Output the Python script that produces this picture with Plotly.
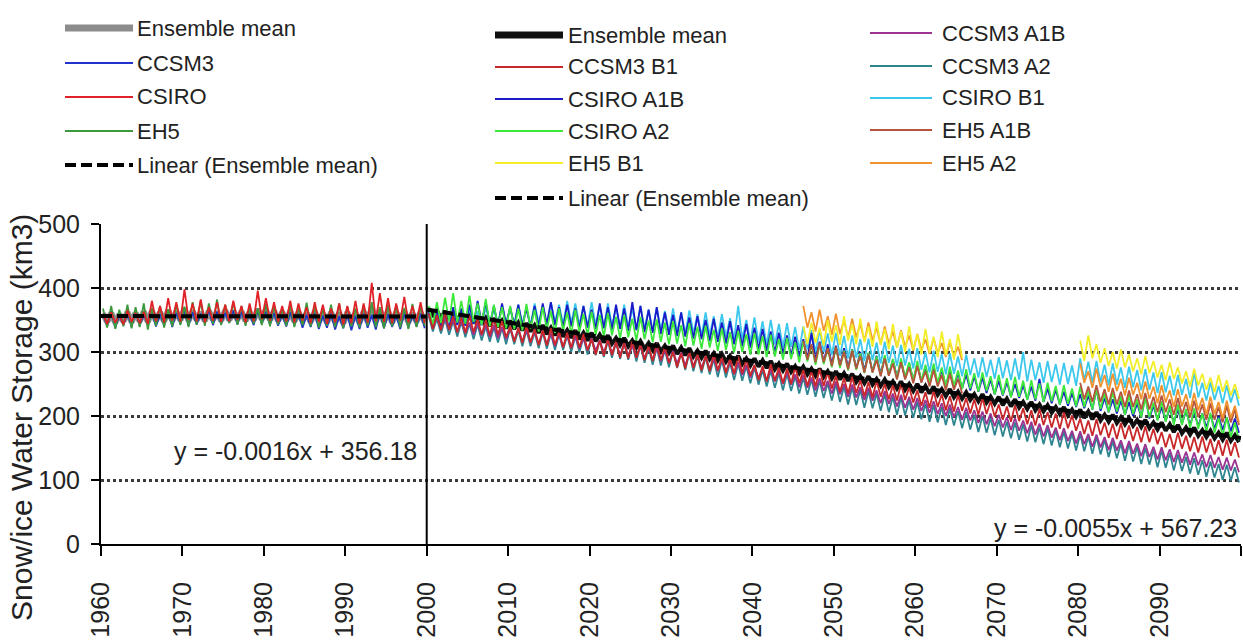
import plotly.graph_objects as go

# ---------------- DATA ----------------
hist_years = list(range(1960, 2000))
fut_years = list(range(2000, 2100))
slice1_years = list(range(2046, 2066))
slice2_years = list(range(2080, 2100))

# historical 1960-1999 : annual seasonal peak / trough (km3)
hist_ens_peak = [360,361,359,362,361,363,364,362,365,363,368,364,362,364,363,365,364,363,362,367,
                 366,364,362,364,362,361,363,360,362,361,362,360,363,369,366,364,362,363,361,362]
hist_ens_trough = [347,346,348,347,348,347,349,348,349,350,349,350,349,350,349,350,351,349,350,351,
                   350,349,349,348,349,347,348,346,347,345,347,346,348,347,347,346,349,347,348,347]
ccsm3_peak = [360,364,358,362,366,360,363,359,365,361,364,362,360,366,363,361,365,362,360,364,
              363,361,359,362,360,358,361,357,360,356,359,357,360,358,362,359,357,361,358,360]
ccsm3_trough = [340,338,342,339,341,343,340,342,339,344,341,343,345,342,344,346,343,345,342,344,
                343,341,340,342,338,339,336,338,335,337,334,336,338,335,337,339,336,338,340,337]
csiro_peak = [360,362,358,365,361,363,380,372,384,378,398,376,382,370,378,374,380,372,376,396,
              384,378,372,380,376,370,378,374,368,376,372,380,376,408,392,384,376,386,372,378]
csiro_trough = [344,346,343,347,345,344,348,346,349,347,350,348,346,349,347,348,350,346,348,351,
                349,347,348,346,349,345,347,344,346,343,345,344,346,348,347,345,349,346,347,345]
eh5_peak = [368,372,366,374,370,376,369,372,367,374,371,378,380,376,382,374,378,372,370,368,
            375,372,368,374,370,377,372,369,374,376,371,368,373,378,370,374,372,369,375,372]
eh5_trough = [338,336,340,337,339,335,341,338,340,342,339,343,341,344,342,345,343,341,344,342,
              340,343,341,339,342,340,338,341,339,337,340,338,341,339,337,340,338,336,339,341]

# future 2000-2099 : annual seasonal peak / trough (km3)
fut_ens_peak = [368,365,364,361,361,357,356,353,353,349, 349,346,345,342,342,338,337,334,334,330,
                330,327,326,322,322,318,317,314,314,310, 310,307,306,302,302,298,297,294,294,290,
                290,287,286,282,282,278,277,274,274,270, 270,267,266,262,262,258,257,254,254,250,
                250,247,246,242,242,238,237,234,234,230, 230,227,226,222,222,218,217,214,214,210,
                210,207,206,202,202,198,197,194,194,190, 190,187,186,182,182,178,177,174,174,170]
fut_ens_trough = [355,353,351,349,347,345,343,341,339,337, 336,334,332,330,328,326,324,322,320,318,
                  317,315,313,311,309,307,305,303,301,299, 297,295,293,291,289,287,285,283,281,279,
                  277,275,273,271,269,267,265,263,261,259, 257,255,253,251,249,247,245,243,241,239,
                  237,235,233,231,229,227,225,223,221,219, 217,215,213,211,209,207,205,203,201,199,
                  197,195,193,191,189,187,185,183,181,179, 177,175,173,171,169,167,165,163,161,159]
ccsm3_b1_peak = [360,358,361,356,354,357,352,350,353,348, 340,338,341,336,334,337,332,330,333,328,
                 320,318,321,316,314,317,312,310,313,308, 300,298,301,296,294,297,292,290,293,288,
                 280,278,281,276,274,277,272,270,273,268, 262,259,261,256,253,255,250,248,250,245,
                 240,237,239,234,231,233,228,226,228,223, 218,215,217,212,209,211,206,204,206,201,
                 196,193,195,190,188,189,185,183,184,180, 175,172,174,169,167,168,164,162,163,159]
ccsm3_b1_trough = [336,334,335,331,330,331,327,326,327,323, 316,314,315,311,310,311,307,306,307,303,
                   296,294,295,291,290,291,287,286,287,283, 276,274,275,271,270,271,267,266,267,263,
                   256,254,255,251,250,251,247,246,247,243, 238,235,236,231,229,230,226,224,225,221,
                   216,213,214,209,207,208,204,202,203,199, 194,191,192,187,185,186,182,180,181,177,
                   172,169,170,166,164,164,161,159,159,156, 151,148,149,145,143,143,140,138,138,135]
ccsm3_a1b_peak = [358,355,353,350,349,346,345,343,342,339, 338,336,335,332,332,329,328,326,325,322,
                  322,319,318,315,314,311,310,307,306,303, 302,299,298,295,293,290,289,285,284,280,
                  279,275,274,270,269,265,264,260,259,255, 254,250,249,245,244,240,239,235,233,230,
                  228,225,223,220,218,214,213,209,207,204, 202,198,197,193,191,188,186,182,181,177,
                  176,172,171,167,166,162,161,157,156,152, 151,148,147,144,143,140,139,136,135,132]
ccsm3_a1b_trough = [338,336,334,331,329,327,326,323,322,320, 318,316,315,312,312,309,308,306,305,302,
                    302,299,298,295,294,291,290,287,286,283, 282,279,278,275,273,270,269,265,264,260,
                    259,255,254,250,249,245,244,240,239,235, 234,230,229,225,224,220,219,215,213,210,
                    208,205,203,200,198,194,193,189,187,184, 182,178,177,173,171,168,166,162,161,157,
                    156,152,151,147,146,142,141,137,136,132, 131,128,127,124,123,120,119,116,115,112]
ccsm3_a2_peak = [356,352,351,348,347,344,343,340,339,338, 337,334,334,331,331,329,328,326,325,323,
                 321,318,317,315,314,312,310,307,307,304, 302,299,298,294,292,289,287,283,282,278,
                 276,272,271,267,266,262,260,257,255,251, 250,246,245,241,239,235,234,230,229,225,
                 222,219,217,214,212,208,206,202,200,197, 194,191,190,187,186,182,181,178,176,173,
                 172,168,167,163,161,157,156,152,150,147, 146,142,140,136,134,131,129,125,124,120]
ccsm3_a2_trough = [332,329,327,324,323,320,318,316,315,312, 312,309,309,306,305,303,303,300,299,296,
                   295,292,291,289,288,285,283,280,279,276, 275,272,270,267,265,261,260,256,255,251,
                   249,246,244,240,239,235,233,230,228,224, 222,218,217,213,212,208,206,202,201,197,
                   195,191,190,186,185,181,179,175,174,170, 168,165,163,160,159,156,154,151,149,146,
                   145,141,140,136,134,130,129,125,124,120, 119,115,114,110,108,105,104,100,99,96]
csiro_a1b_peak = [362,366,360,370,368,374,380,378,372,376, 370,374,368,372,376,378,370,374,368,372,
                  366,376,370,374,368,378,372,366,370,362, 358,362,354,356,350,352,346,348,342,344,
                  338,336,332,330,326,324,320,330,316,312, 310,306,304,300,298,294,292,288,286,282,
                  280,277,275,272,270,267,265,262,260,257, 255,253,250,248,246,258,243,241,238,236,
                  234,232,242,228,226,224,222,220,232,216, 214,212,210,208,206,204,202,200,198,196]
csiro_a1b_trough = [338,340,336,342,341,344,345,343,342,344, 342,341,339,340,343,342,338,340,337,338,
                    336,337,335,336,333,334,331,330,328,327, 325,324,321,320,317,316,313,312,309,307,
                    304,302,299,297,294,292,289,287,284,281, 279,276,274,271,269,266,264,261,259,256,
                    254,252,249,247,245,243,240,238,236,234, 232,230,228,226,224,222,220,218,216,214,
                    212,210,208,206,204,202,200,198,196,194, 192,190,188,186,184,182,180,178,176,174]
csiro_a2_peak = [372,378,385,392,380,388,376,383,374,370, 372,368,375,366,370,364,368,362,366,360,
                 363,358,361,355,358,352,355,349,351,346, 348,342,345,339,341,335,337,331,333,328,
                 330,325,327,320,322,315,317,311,312,306, 308,302,304,298,299,293,295,289,290,284,
                 286,280,282,276,277,271,273,267,268,262, 264,259,261,255,256,251,252,247,248,243,
                 246,240,243,236,238,231,233,226,228,221, 223,216,218,211,212,204,205,197,198,190]
csiro_a2_trough = [342,345,348,346,344,347,343,341,339,337, 336,334,337,332,335,330,333,328,331,326,
                   327,324,326,321,323,318,320,315,316,312, 313,309,310,305,307,302,303,299,300,296,
                   296,292,293,288,289,284,285,280,281,276, 275,271,272,267,268,263,264,259,260,255,
                   254,250,251,246,247,242,243,238,239,234, 233,229,230,225,226,222,223,218,219,215,
                   214,210,211,206,207,202,203,198,198,193, 191,186,186,181,180,175,174,169,167,162]
csiro_b1_peak = [360,364,358,366,362,368,364,370,366,372, 368,374,370,376,372,378,374,380,376,372,
                 378,372,376,370,374,368,372,366,370,364, 368,362,365,359,362,356,359,353,372,350,
                 354,348,350,344,345,339,340,334,335,329, 330,325,326,320,321,315,316,310,311,305,
                 306,300,302,297,298,293,296,290,292,288, 292,287,290,300,288,284,286,281,283,279,
                 290,285,286,280,282,276,277,272,273,268, 269,263,264,258,270,252,253,247,248,242]
csiro_b1_trough = [340,342,339,343,341,344,342,345,343,344, 342,344,341,345,343,346,343,345,342,340,
                   341,339,340,337,338,335,336,333,334,331, 331,328,329,325,326,322,323,319,320,316,
                   315,311,312,307,308,303,304,299,300,295, 294,290,291,286,287,282,283,278,279,274,
                   272,268,269,265,266,262,264,260,261,258, 259,256,257,254,256,252,253,249,250,247,
                   256,252,253,248,249,244,245,240,241,236, 237,232,233,228,229,224,225,220,221,216]

# EH5 scenario runs: two 20-year time slices
eh5_a1b_peak_s1 = [318,312,314,306,308,300,302,294,296,288,290,282,284,276,278,270,272,264,266,258]
eh5_a1b_trough_s1 = [288,284,284,278,279,273,274,268,268,262,263,257,257,251,252,246,246,240,241,235]
eh5_a1b_peak_s2 = [252,246,248,242,244,238,240,234,236,230,232,226,228,222,224,218,220,214,216,210]
eh5_a1b_trough_s2 = [226,222,222,218,218,214,214,210,210,206,206,202,202,198,198,194,194,190,190,186]
eh5_a2_peak_s1 = [372,362,366,356,360,350,352,344,346,338,340,332,334,326,328,320,322,314,316,308]
eh5_a2_trough_s1 = [338,332,333,327,328,322,323,317,318,312,313,307,308,302,303,297,298,292,293,287]
eh5_a2_peak_s2 = [282,270,274,264,266,258,260,252,254,246,248,240,242,234,236,228,230,222,224,216]
eh5_a2_trough_s2 = [252,244,245,238,239,232,233,226,227,220,221,214,215,208,209,202,203,196,197,190]
eh5_b1_peak_s1 = [340,346,338,350,342,356,344,352,340,348,336,344,332,340,328,336,324,332,320,328]
eh5_b1_trough_s1 = [312,314,310,316,311,318,312,315,308,311,304,307,300,303,296,299,292,295,288,291]
eh5_b1_peak_s2 = [318,326,312,306,300,304,296,290,294,286,280,284,276,270,274,266,260,264,256,250]
eh5_b1_trough_s2 = [286,290,283,278,274,276,270,265,267,260,256,258,251,246,248,241,237,238,232,227]

# trend-line equations printed on the chart
hist_slope, hist_intercept = -0.0016, 356.18   # x = month index
fut_slope, fut_intercept = -0.0055, 567.23     # x = Excel date serial

y_ticks = [0, 100, 200, 300, 400, 500]
x_ticks = list(range(1960, 2101, 10))
x_ticklabels = [str(v) for v in range(1960, 2100, 10)] + [""]

# ---------------- helpers ----------------
FONT = "Liberation Sans, Arial, sans-serif"
TXT = "#222222"


def zigzag(years, peaks, troughs):
    xs, ys = [], []
    for yr, p, t in zip(years, peaks, troughs):
        xs += [yr + 0.25, yr + 0.75]
        ys += [p, t]
    return xs, ys


def sliced(parts):
    xs, ys = [], []
    for yrs, p, t in parts:
        a, b = zigzag(yrs, p, t)
        if xs:
            xs.append(None)
            ys.append(None)
        xs += a
        ys += b
    return xs, ys


fig = go.Figure()


def add(name, xy, color, width):
    fig.add_trace(go.Scatter(x=xy[0], y=xy[1], mode="lines", name=name,
                             line=dict(color=color, width=width),
                             showlegend=False, hoverinfo="skip"))


C = {
    "hist_ens": "#8C8C8C", "CCSM3": "#2233CC", "CSIRO": "#E02228", "EH5": "#3C9A3C",
    "fut_ens": "#111111", "CCSM3 B1": "#C8282A", "CSIRO A1B": "#1A1AC8",
    "CSIRO A2": "#3DE83D", "EH5 B1": "#F2EE2A", "CCSM3 A1B": "#9A3392",
    "CCSM3 A2": "#2E8590", "CSIRO B1": "#3CC8EC", "EH5 A1B": "#B5533C",
    "EH5 A2": "#F0922E",
}

# historical
add("Ensemble mean", zigzag(hist_years, hist_ens_peak, hist_ens_trough), C["hist_ens"], 6)
add("CCSM3", zigzag(hist_years, ccsm3_peak, ccsm3_trough), C["CCSM3"], 1.8)
add("EH5", zigzag(hist_years, eh5_peak, eh5_trough), C["EH5"], 1.8)
add("CSIRO", zigzag(hist_years, csiro_peak, csiro_trough), C["CSIRO"], 1.8)

# future
add("Ensemble mean", zigzag(fut_years, fut_ens_peak, fut_ens_trough), C["fut_ens"], 4)
add("CCSM3 A2", zigzag(fut_years, ccsm3_a2_peak, ccsm3_a2_trough), C["CCSM3 A2"], 1.8)
add("CCSM3 A1B", zigzag(fut_years, ccsm3_a1b_peak, ccsm3_a1b_trough), C["CCSM3 A1B"], 1.8)
add("CSIRO B1", zigzag(fut_years, csiro_b1_peak, csiro_b1_trough), C["CSIRO B1"], 1.8)
add("CSIRO A1B", zigzag(fut_years, csiro_a1b_peak, csiro_a1b_trough), C["CSIRO A1B"], 1.8)
add("CSIRO A2", zigzag(fut_years, csiro_a2_peak, csiro_a2_trough), C["CSIRO A2"], 1.8)
add("EH5 A1B", sliced([(slice1_years, eh5_a1b_peak_s1, eh5_a1b_trough_s1),
                       (slice2_years, eh5_a1b_peak_s2, eh5_a1b_trough_s2)]), C["EH5 A1B"], 1.8)
add("EH5 A2", sliced([(slice1_years, eh5_a2_peak_s1, eh5_a2_trough_s1),
                      (slice2_years, eh5_a2_peak_s2, eh5_a2_trough_s2)]), C["EH5 A2"], 1.8)
add("EH5 B1", sliced([(slice1_years, eh5_b1_peak_s1, eh5_b1_trough_s1),
                      (slice2_years, eh5_b1_peak_s2, eh5_b1_trough_s2)]), C["EH5 B1"], 1.8)
add("CCSM3 B1", zigzag(fut_years, ccsm3_b1_peak, ccsm3_b1_trough), C["CCSM3 B1"], 1.8)

# linear trend lines from the printed equations
h_x = [1960, 2000]
h_y = [hist_intercept + hist_slope * 1, hist_intercept + hist_slope * 480]
serial = lambda yr: 36526 + (yr - 2000) * 365.25
f_x = [2000, 2100]
f_y = [fut_intercept + fut_slope * serial(v) for v in f_x]
DASH = "11px,5px"
fig.add_trace(go.Scatter(x=h_x, y=h_y, mode="lines", name="Linear (Ensemble mean)",
                         line=dict(color="black", width=4, dash=DASH), showlegend=False,
                         hoverinfo="skip"))
fig.add_trace(go.Scatter(x=f_x, y=f_y, mode="lines", name="Linear (Ensemble mean)",
                         line=dict(color="black", width=4, dash=DASH), showlegend=False,
                         hoverinfo="skip"))

# ---------------- layout ----------------
W, H = 1243, 644
ML, MR, MT, MB = 101, 2, 224, 100
PW, PH = W - ML - MR, H - MT - MB


def px(x):
    return (x - ML) / PW


def py(y):
    return (H - MB - y) / PH


shapes = [dict(type="line", xref="x", yref="y", x0=2000, x1=2000, y0=0, y1=500,
               line=dict(color="black", width=2), layer="above")]
annotations = []

legend_items = [
    # (label, color, width, dash, x_line0, x_line1, x_text, y_row)
    ("Ensemble mean", C["hist_ens"], 7, None, 65, 133, 135, 28),
    ("CCSM3", C["CCSM3"], 2, None, 65, 133, 135, 63),
    ("CSIRO", C["CSIRO"], 2, None, 65, 133, 135, 97),
    ("EH5", C["EH5"], 2, None, 65, 133, 135, 131),
    ("Linear (Ensemble mean)", "black", 4, DASH, 65, 133, 135, 165),
    ("Ensemble mean", C["fut_ens"], 7, None, 495, 563, 566, 35),
    ("CCSM3 B1", C["CCSM3 B1"], 2, None, 495, 563, 566, 67),
    ("CSIRO A1B", C["CSIRO A1B"], 2, None, 495, 563, 566, 99),
    ("CSIRO A2", C["CSIRO A2"], 2, None, 495, 563, 566, 131),
    ("EH5 B1", C["EH5 B1"], 2, None, 495, 563, 566, 163),
    ("Linear (Ensemble mean)", "black", 4, DASH, 495, 563, 566, 198),
    ("CCSM3 A1B", C["CCSM3 A1B"], 2, None, 870, 932, 940, 33),
    ("CCSM3 A2", C["CCSM3 A2"], 2, None, 870, 932, 940, 66),
    ("CSIRO B1", C["CSIRO B1"], 2, None, 870, 932, 940, 98),
    ("EH5 A1B", C["EH5 A1B"], 2, None, 870, 932, 940, 130),
    ("EH5 A2", C["EH5 A2"], 2, None, 870, 932, 940, 163),
]
for label, col, w, dash, x0, x1, xt, yr in legend_items:
    ln = dict(color=col, width=w)
    if dash:
        ln["dash"] = dash
    shapes.append(dict(type="line", xref="paper", yref="paper", x0=px(x0), x1=px(x1),
                       y0=py(yr), y1=py(yr), line=ln))
    annotations.append(dict(xref="paper", yref="paper", x=px(xt), y=py(yr), text=label,
                            showarrow=False, xanchor="left", yanchor="middle",
                            font=dict(family=FONT, size=22, color=TXT)))

annotations += [
    dict(xref="paper", yref="paper", x=px(21), y=py(418), text="Snow/ice Water Storage (km3)",
         textangle=-90, showarrow=False, xanchor="center", yanchor="middle",
         font=dict(family=FONT, size=30, color=TXT)),
    dict(xref="paper", yref="paper", x=px(295), y=py(451), text="y = -0.0016x + 356.18",
         showarrow=False, xanchor="center", yanchor="middle",
         font=dict(family=FONT, size=25, color=TXT)),
    dict(xref="paper", yref="paper", x=px(1239), y=py(528), text="y = -0.0055x + 567.23",
         showarrow=False, xanchor="right", yanchor="middle",
         font=dict(family=FONT, size=25, color=TXT)),
]

fig.update_layout(
    width=W, height=H, autosize=False,
    margin=dict(l=ML, r=MR, t=MT, b=MB, pad=0),
    paper_bgcolor="white", plot_bgcolor="white",
    shapes=shapes, annotations=annotations, showlegend=False,
    xaxis=dict(range=[1960, 2100], tickmode="array", tickvals=x_ticks, ticktext=x_ticklabels,
               tickangle=-90, ticks="outside", ticklen=10, tickwidth=2, tickcolor="black",
               showline=True, linecolor="black", linewidth=2, showgrid=False, zeroline=False,
               ticklabelstandoff=16, automargin=False,
               tickfont=dict(family=FONT, size=25, color=TXT)),
    yaxis=dict(range=[0, 500], tickmode="array", tickvals=y_ticks, ticks="outside", ticklen=8,
               tickwidth=2, tickcolor="black", showline=True, linecolor="black", linewidth=2,
               showgrid=True, gridcolor="#3a3a3a", gridwidth=2.5, griddash="dot", zeroline=False,
               ticklabelstandoff=6, automargin=False,
               tickfont=dict(family=FONT, size=25, color=TXT)),
)

fig.write_html("out.html", config={"displayModeBar": False},
               post_script="document.body.style.margin='0';document.body.style.overflow='hidden';")
